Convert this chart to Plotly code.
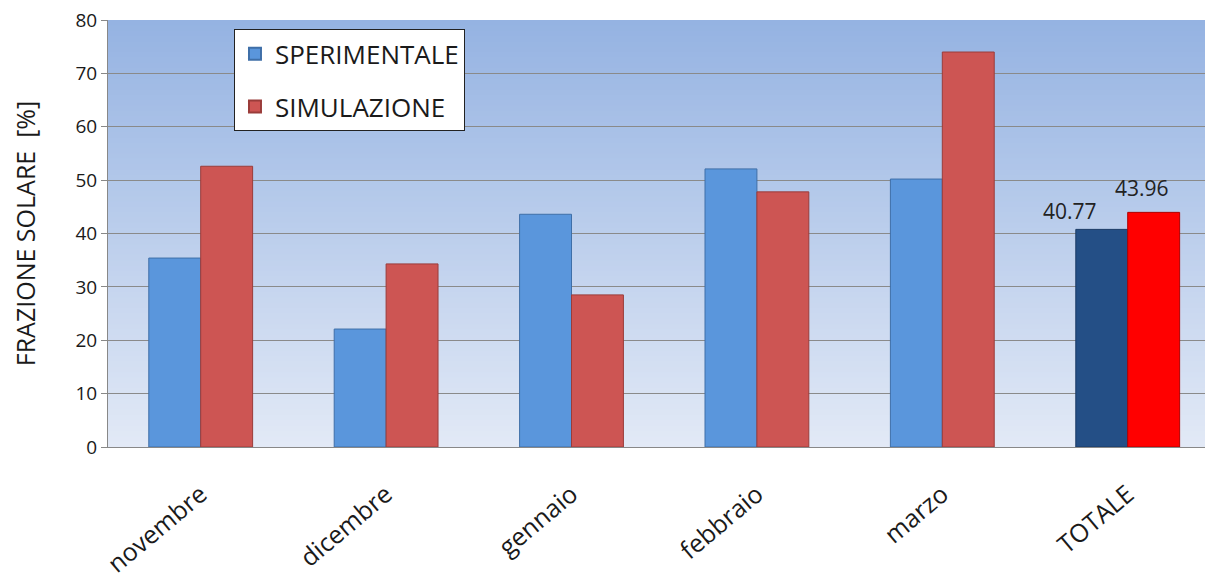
import plotly.graph_objects as go

categories = ["novembre", "dicembre", "gennaio", "febbraio", "marzo", "TOTALE"]
sperimentale = [35.4, 22.1, 43.6, 52.1, 50.2, 40.77]
simulazione = [52.6, 34.3, 28.5, 47.8, 74.0, 43.96]
total_labels = ["40.77", "43.96"]

sper_colors = ["#5a96dc"] * 5 + ["#244f86"]
sim_colors = ["#cd5553"] * 5 + ["#ff0000"]
sper_lines = ["#3f6fa8"] * 5 + ["#1a3a64"]
sim_lines = ["#9a3c3a"] * 5 + ["#b00000"]

fig = go.Figure()
fig.add_trace(go.Bar(x=categories, y=sperimentale, name="SPERIMENTALE", legendgroup="a",
                     marker=dict(color=sper_colors, line=dict(color=sper_lines, width=1))))
fig.add_trace(go.Bar(x=categories, y=simulazione, name="SIMULAZIONE", legendgroup="b",
                     marker=dict(color=sim_colors, line=dict(color=sim_lines, width=1))))

# gradient background
top = (0x95, 0xb3, 0xe2)
bot = (0xe2, 0xe9, 0xf6)
n = 80
for i in range(n):
    t = i / (n - 1)
    c = tuple(int(round(top[k] + (bot[k] - top[k]) * t)) for k in range(3))
    fig.add_shape(type="rect", xref="paper", yref="paper", x0=0, x1=1,
                  y0=max(0, 1 - (i + 1.6) / n), y1=1 - i / n, layer="below",
                  line=dict(width=0), fillcolor="rgb(%d,%d,%d)" % c)

fig.add_annotation(x="TOTALE", y=sperimentale[5], text=total_labels[0], showarrow=False,
                   xshift=-58, yshift=18, font=dict(size=21, color="#222"))
fig.add_annotation(x="TOTALE", y=simulazione[5], text=total_labels[1], showarrow=False,
                   xshift=14, yshift=24, font=dict(size=21, color="#222"))

fig.update_layout(
    width=1213, height=579,
    margin=dict(l=100, r=8, t=12, b=140, autoexpand=False),
    paper_bgcolor="white", plot_bgcolor="rgba(0,0,0,0)",
    barmode="group", bargap=0.44, bargroupgap=0,
    font=dict(family="Open Sans, Liberation Sans, sans-serif", color="#1a1a1a"),
    showlegend=True,
    legend=dict(x=0.114, y=0.978, xanchor="left", yanchor="top",
                bgcolor="white", bordercolor="#222", borderwidth=1,
                font=dict(size=26), itemsizing="constant", tracegroupgap=16,
                traceorder="grouped"),
    xaxis=dict(range=[-0.5, 5.46], tickangle=-40, tickfont=dict(size=25),
               showline=True, linecolor="#888", linewidth=1, showgrid=False,
               ticks="", ticklabelstandoff=22, automargin=False),
    yaxis=dict(range=[0, 80], dtick=10, tickfont=dict(size=19),
               showgrid=True, gridcolor="#8a8a8a", gridwidth=1,
               showline=True, linecolor="#888", linewidth=1,
               ticks="outside", ticklen=6, tickcolor="#888", automargin=False,
               ticklabeloverflow="allow",
               title=dict(text="FRAZIONE SOLARE  [%]", font=dict(size=25), standoff=45),
               zeroline=False),
)

fig.write_html("out.html")
